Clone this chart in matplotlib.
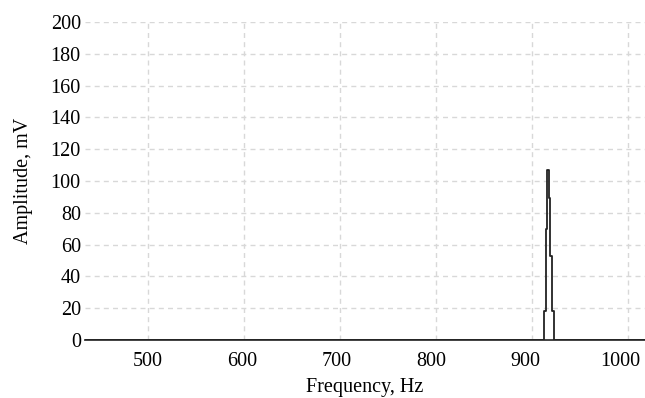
import matplotlib.pyplot as plt
import matplotlib.transforms as mtransforms
import numpy as np

# spectrum edges (Hz) and amplitude (mV) of each step
freq = [434, 912.6, 914.2, 915.7, 917.3, 918.8, 920.4, 922.0, 1018]
amp = [0, 18, 70, 107, 89, 53, 18, 0, 0]
xticks = [500, 600, 700, 800, 900, 1000]
yticks = np.arange(0, 201, 20)

plt.rcParams['font.family'] = 'Liberation Serif'
fig = plt.figure(figsize=(6.45, 3.98), dpi=100)
ax = fig.add_axes([85/645, 58/398, 560/645, 318/398])

ax.step(freq, amp, where='post', color='#222222', lw=1.3, zorder=3)
ax.set_xlim(434.4, 1017.2)
ax.set_ylim(0, 200)
ax.set_xticks(xticks)
ax.set_yticks(yticks)
ax.grid(True, color='#d8d8d8', ls=(0, (3.6, 3)), lw=1)
ax.set_axisbelow(True)
for s in ['left', 'top', 'right']:
    ax.spines[s].set_visible(False)
ax.spines['bottom'].set_color('#333333')
ax.spines['bottom'].set_linewidth(1.3)
ax.tick_params(length=0, labelsize=14.5, colors='black')
ax.tick_params(axis='x', pad=9)
ax.tick_params(axis='y', pad=3)
ax.set_xlabel('Frequency, Hz', fontsize=14.5, labelpad=5)
ax.set_ylabel('Amplitude, mV', fontsize=14.5, labelpad=13)

# x labels sit a little left of their grid lines in the original
for val, lab in zip(xticks, ax.get_xticklabels()):
    dx = -(val - 500) / 500 * 6 / 72
    lab.set_transform(lab.get_transform() + mtransforms.ScaledTranslation(dx, 0, fig.dpi_scale_trans))

fig.savefig('out.png', dpi=100)
